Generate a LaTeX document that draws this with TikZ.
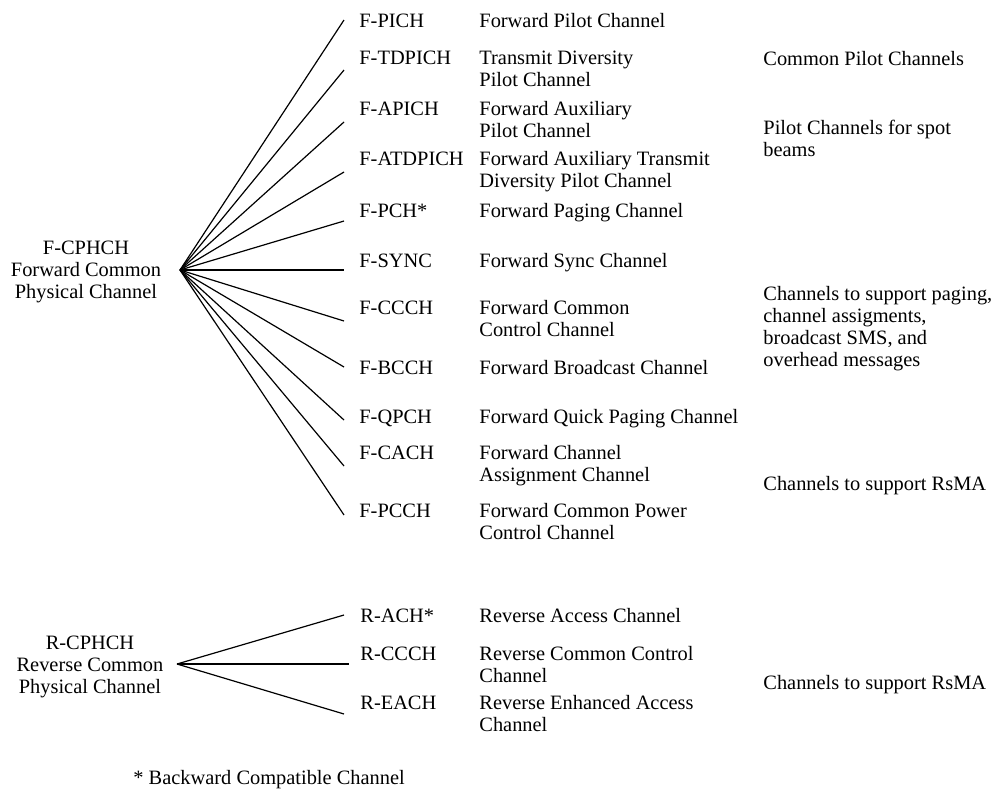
\documentclass[tikz,border=0pt]{standalone}
\usepackage{fontspec}
\setmainfont{Liberation Serif}
\begin{document}
\begin{tikzpicture}[x=0.5pt,y=-0.5pt,font={\fontsize{10.2}{11}\selectfont}]
	\tikzset{hub/.style={align=center,inner sep=0pt,anchor=north},
		chan/.style={anchor=base west,inner sep=0pt},
		desc/.style={anchor=north west,align=left,inner sep=0pt},
		note/.style={anchor=north west,align=left,inner sep=0pt},
		link/.style={line width=0.6pt}}
	\useasboundingbox (0,0) rectangle (995,788);

	% forward common channels
	\coordinate (fhub) at (180,270);
	\node[hub] (fname) at (86,238.6) {\strut F-CPHCH\\Forward Common\\Physical Channel};
	\foreach \n/\yc/\ye/\lbl/\dsc in {
			pich/20/20/F-PICH/{Forward Pilot Channel},
			tdpich/57/70/F-TDPICH/{Transmit Diversity\\Pilot Channel},
			apich/108/122/F-APICH/{Forward Auxiliary\\Pilot Channel},
			atdpich/158/172/F-ATDPICH/{Forward Auxiliary Transmit\\Diversity Pilot Channel},
			pch/210/221/F-PCH*/{Forward Paging Channel},
			sync/260/270/F-SYNC/{Forward Sync Channel},
			ccch/307/321/F-CCCH/{Forward Common\\Control Channel},
			bcch/367/367/F-BCCH/{Forward Broadcast Channel},
			qpch/416/420/F-QPCH/{Forward Quick Paging Channel},
			cach/452/466/F-CACH/{Forward Channel\\Assignment Channel},
			pcch/510/515/F-PCCH/{Forward Common Power\\Control Channel}}
	{
		\node[chan] (\n) at (359,\yc+7) {\lbl};
		\node[desc] (\n-d) at (479,\yc-8.4) {\strut\dsc};
		\coordinate (\n-e) at (344,\ye);
		\draw[link] (fhub) -- (\n-e);
	}

	% reverse common channels
	\coordinate (rhub) at (177,664);
	\node[hub] (rname) at (90,633.6) {\strut R-CPHCH\\Reverse Common\\Physical Channel};
	\foreach \n/\yc/\xe/\ye/\lbl/\dsc in {
			rach/615/344/615/R-ACH*/{Reverse Access Channel},
			rccch/653/349/664/R-CCCH/{Reverse Common Control\\Channel},
			reach/702/344/714/R-EACH/{Reverse Enhanced Access\\Channel}}
	{
		\node[chan] (\n) at (360,\yc+7) {\lbl};
		\node[desc] (\n-d) at (479,\yc-8.4) {\strut\dsc};
		\coordinate (\n-e) at (\xe,\ye);
		\draw[link] (rhub) -- (\n-e);
	}

	% groups
	\node[note] (g1) at (763,49.6) {\strut Common Pilot Channels};
	\node[note] (g2) at (763,118.6) {\strut Pilot Channels for spot\\beams};
	\node[note] (g3) at (763,284.6) {\strut Channels to support paging,\\channel assigments,\\broadcast SMS, and\\overhead messages};
	\node[note] (g4) at (763,474.6) {\strut Channels to support RsMA};
	\node[note] (g5) at (763,673.6) {\strut Channels to support RsMA};

	\node[note] (foot) at (133,768.6) {\strut * Backward Compatible Channel};
\end{tikzpicture}
\end{document}
